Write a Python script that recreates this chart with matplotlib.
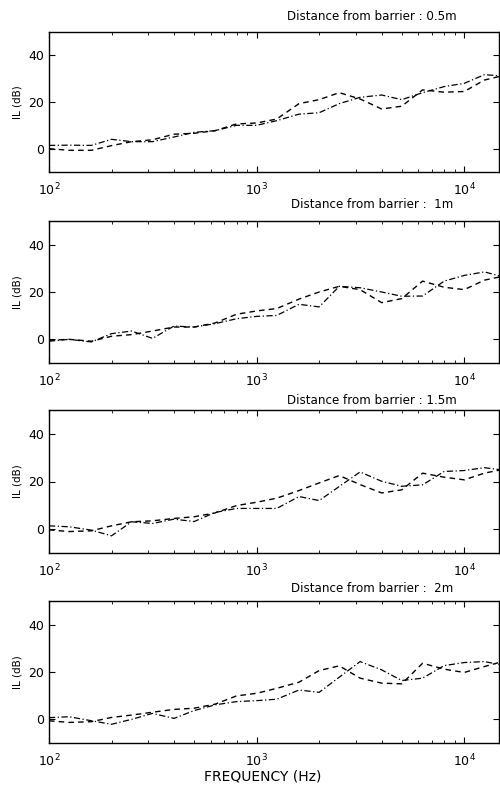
import numpy as np
import matplotlib
matplotlib.use("Agg")
import matplotlib.pyplot as plt
from matplotlib.ticker import LogLocator, NullFormatter, FixedLocator

plt.rcParams['font.family'] = ['DejaVu Sans']

# third-octave band centre frequencies (Hz)
freq = [100, 125, 160, 200, 250, 315, 400, 500, 630, 800, 1000, 1250, 1600,
        2000, 2500, 3150, 4000, 5000, 6300, 8000, 10000, 12500, 16000]

titles = ["Distance from barrier : 0.5m", "Distance from barrier :  1m",
          "Distance from barrier : 1.5m", "Distance from barrier :  2m"]

# dash-dot curves
il_a_05 = [1.4, 1.5, 1.4, 4.0, 3.0, 3.0, 5.0, 7.0, 7.7, 10.0, 10.0, 12.0, 14.8,
           15.4, 19.3, 22.0, 23.0, 21.0, 24.0, 26.6, 28.0, 31.7, 31.0]
il_a_10 = [-0.8, 0.0, -1.1, 2.4, 3.5, 0.4, 5.6, 5.2, 6.6, 8.7, 9.7, 10.1, 14.8,
           13.7, 22.4, 21.8, 20.0, 18.2, 18.3, 24.6, 27.0, 28.5, 26.0]
il_a_15 = [1.4, 1.0, -0.4, -2.8, 3.1, 2.4, 4.2, 3.2, 7.0, 8.7, 8.7, 8.7, 13.7,
           12.0, 17.9, 24.0, 20.1, 18.0, 18.6, 24.2, 24.6, 25.8, 24.6]
il_a_20 = [0.7, 1.1, -0.6, -2.1, 0.0, 2.5, 0.4, 3.7, 6.1, 7.5, 7.9, 8.5, 12.4,
           11.4, 17.8, 24.4, 20.9, 16.4, 17.4, 22.7, 24.0, 24.4, 22.6]

# dashed curves
il_b_05 = [0.0, -0.7, -0.7, 1.3, 3.0, 3.8, 6.2, 6.6, 7.7, 10.6, 11.0, 12.7, 19.3,
           21.0, 24.0, 21.3, 17.0, 18.2, 25.2, 24.2, 24.5, 29.4, 31.7]
il_b_10 = [-0.4, 0.0, -0.8, 1.3, 2.0, 3.5, 5.2, 5.2, 6.9, 10.6, 12.0, 13.0, 17.0,
           20.0, 22.4, 21.0, 15.5, 17.2, 24.6, 22.0, 21.0, 25.0, 27.0]
il_b_15 = [-0.3, -1.0, -0.7, 1.4, 3.1, 3.5, 4.5, 5.2, 6.8, 9.9, 11.3, 13.0, 16.2,
           19.4, 22.5, 18.7, 15.2, 16.5, 23.5, 21.8, 20.7, 23.5, 25.4]
il_b_20 = [-0.6, -1.3, -1.0, 0.8, 1.8, 3.0, 4.2, 4.7, 6.4, 9.9, 11.0, 13.1, 15.7,
           20.6, 22.6, 17.4, 15.3, 15.0, 23.7, 21.2, 19.8, 22.3, 24.9]

series_a = [il_a_05, il_a_10, il_a_15, il_a_20]
series_b = [il_b_05, il_b_10, il_b_15, il_b_20]

fig = plt.figure(figsize=(5, 7.87), dpi=100)

# axes boxes in pixels (top, bottom)
boxes = [(32, 172), (221, 363), (410, 553), (601, 743)]
title_y = [16, 205, 400, 588]
H = 787.0

for i in range(4):
    top, bot = boxes[i]
    ax = fig.add_axes([49 / 500, 1 - bot / H, 450 / 500, (bot - top) / H])
    ax.semilogx(freq, series_a[i], color='k', lw=0.9, dashes=(5, 2, 1, 2))
    ax.semilogx(freq, series_b[i], color='k', lw=1.0, dashes=(4, 3))
    ax.set_xlim(100, 14700)
    ax.set_ylim(-10, 50)
    ax.yaxis.set_major_locator(FixedLocator([0, 20, 40]))
    ax.xaxis.set_major_locator(LogLocator(base=10, numticks=10))
    ax.xaxis.set_minor_locator(LogLocator(base=10, subs=np.arange(2, 10), numticks=10))
    ax.xaxis.set_minor_formatter(NullFormatter())
    ax.tick_params(which='both', direction='in', top=True, right=True, labelsize=9)
    ax.tick_params(axis='x', which='major', pad=7)
    ax.tick_params(which='major', length=4, width=0.8)
    ax.tick_params(which='minor', length=2.5, width=0.6)
    for s in ax.spines.values():
        s.set_linewidth(1.0)
    ax.set_ylabel("IL (dB)", fontsize=7.5)
    ax.yaxis.set_label_coords(-26 / 450, 0.5)
    fig.text(372 / 500, 1 - title_y[i] / H, titles[i], ha='center', va='center',
             fontsize=8.6)

fig.text(263 / 500, 1 - 777 / H, "FREQUENCY (Hz)", ha='center', va='center',
         fontsize=10)

fig.savefig("out.png", dpi=100)
